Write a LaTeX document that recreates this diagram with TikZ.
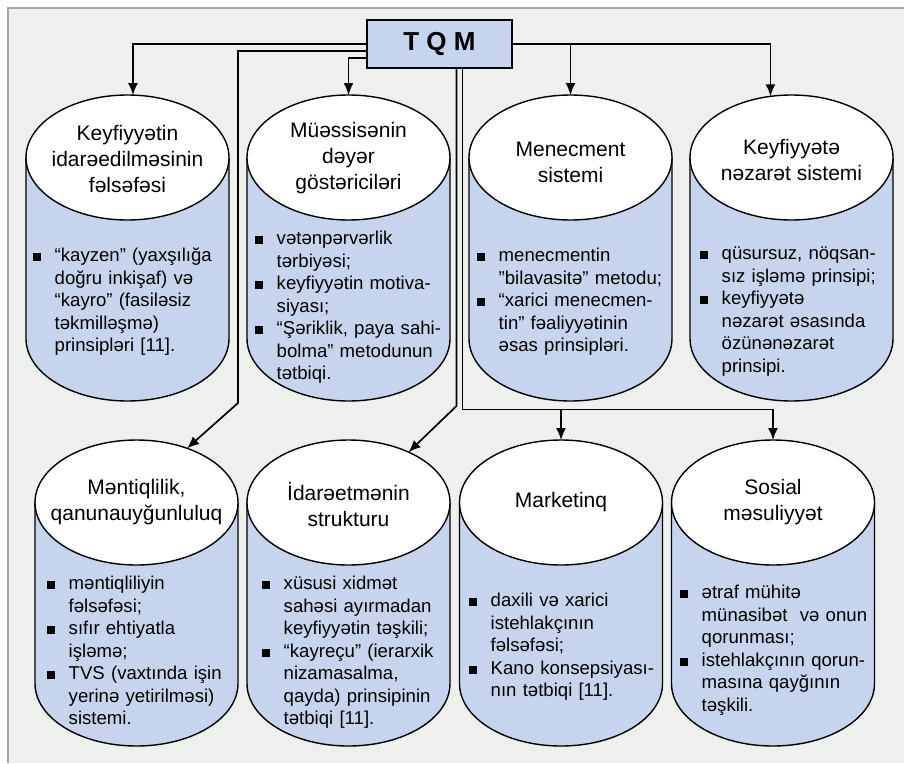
\documentclass[tikz,border=0pt]{standalone}
\usepackage{fontspec}
\setmainfont{Liberation Sans}
\usetikzlibrary{arrows.meta}
\usetikzlibrary{shapes.geometric}
\usetikzlibrary{backgrounds}
\tikzset{>={Latex[width=10pt,length=12pt]}}

\definecolor{boxblue}{RGB}{198,213,237}
\definecolor{pagegray}{RGB}{238,240,238}
\definecolor{framegray}{RGB}{165,165,165}

% one bullet item, lines broken by hand
\newcommand\bul[1]{\par\noindent\makebox[21.5pt][l]{\rule{0pt}{15pt}\raisebox{0.5pt}{\rule{8pt}{8pt}}}%
  \parbox[t]{180pt}{#1\rule[-6.5pt]{0pt}{6.5pt}}\par}

\tikzset{
  cylhead/.style={ellipse, draw, fill=white, line width=1.4pt,
    minimum width=203pt, minimum height=125pt, inner sep=0pt, outer sep=0pt},
  cylbody/.style={draw, fill=boxblue, line width=1.4pt},
  heading/.style={align=center, font=\fontsize{21}{26}\selectfont},
  bodytext/.style={anchor=north west, inner sep=0pt, text width=205pt,
    font=\fontsize{18.6}{22.5}\selectfont},
  link/.style={->, line width=1.7pt},
}

\begin{document}
\begin{tikzpicture}[x=1pt,y=-1pt]

  \useasboundingbox (0,0) rectangle (904,763);
  \begin{scope}[on background layer]
    \fill[pagegray] (8,8) rectangle (904,763);
    \draw[framegray, line width=1.6pt] (8,763) -- (8,8) -- (904,8);
  \end{scope}

  \node[draw, fill=boxblue, line width=1.4pt, minimum width=145pt, minimum height=48pt,
    inner sep=0pt, font=\bfseries\fontsize{26}{30}\selectfont] (tqm) at (439.5,44) {T Q M};

  % upper row
  \node[cylhead] (cyl1) at (127.5,157.5) {};
  \node[cylhead] (cyl2) at (348.5,157.5) {};
  \node[cylhead] (cyl3) at (570.5,157.5) {};
  \node[cylhead] (cyl4) at (791.5,157.5) {};
  % lower row
  \node[cylhead] (cyl5) at (136.5,502.5) {};
  \node[cylhead] (cyl6) at (348.5,502.5) {};
  \node[cylhead] (cyl7) at (561,502.5) {};
  \node[cylhead] (cyl8) at (773,502.5) {};

  \begin{scope}[on background layer]
    \foreach \i in {1,...,8}
      \draw[cylbody] (cyl\i.west) -- ++(0,181)
        arc[start angle=180, end angle=0, x radius=101.5, y radius=62.5] -- (cyl\i.east) -- cycle;
  \end{scope}

  \node[heading] (head1) at ([yshift=-1pt]cyl1.center) {Keyfiyyətin\\idarəedilməsinin\\fəlsəfəsi};
  \node[heading] (head2) at ([yshift=-1pt]cyl2.center) {Müəssisənin\\dəyər\\göstəriciləri};
  \node[heading] (head3) at ([yshift=-5pt]cyl3.center) {Menecment\\sistemi};
  \node[heading] (head4) at ([yshift=-2pt]cyl4.center) {Keyfiyyətə\\nəzarət sistemi};
  \node[heading] (head5) at (cyl5.center) {Məntiqlilik,\\qanunauyğunluluq};
  \node[heading] (head6) at ([yshift=-2pt]cyl6.center) {İdarəetmənin\\strukturu};
  \node[heading] (head7) at (cyl7.center) {Marketinq};
  \node[heading] (head8) at (cyl8.center) {Sosial\\məsuliyyət};

  \node[bodytext] (txt1) at (33,239) {\bul{“kayzen” (yaxşılığa\\doğru inkişaf) və\\
    “kayro” (fasiləsiz\\təkmilləşmə)\\prinsipləri [11].}};
  \node[bodytext] (txt2) at (255,222) {\bul{vətənpərvərlik\\tərbiyəsi;}
    \bul{keyfiyyətin motiva-\\siyası;}
    \bul{“Şəriklik, paya sahi-\\bolma” metodunun\\tətbiqi.}};
  \node[bodytext] (txt3) at (477,239) {\bul{menecmentin\\”bilavasitə” metodu;}
    \bul{“xarici menecmen-\\tin” fəaliyyətinin\\əsas prinsipləri.}};
  \node[bodytext] (txt4) at (700,237) {\bul{qüsursuz, nöqsan-\\sız işləmə prinsipi;}
    \bul{keyfiyyətə\\nəzarət əsasında\\özünənəzarət\\prinsipi.}};
  \node[bodytext] (txt5) at (47,567) {\bul{məntiqliliyin\\fəlsəfəsi;}
    \bul{sıfır ehtiyatla\\işləmə;}
    \bul{TVS (vaxtında işin\\yerinə yetirilməsi)\\sistemi.}};
  \node[bodytext] (txt6) at (262,567) {\bul{xüsusi xidmət\\sahəsi ayırmadan\\keyfiyyətin təşkili;}
    \bul{“kayreçu” (ierarxik\\nizamasalma,\\qayda) prinsipinin\\tətbiqi [11].}};
  \node[bodytext] (txt7) at (469,584) {\bul{daxili və xarici\\istehlakçının\\fəlsəfəsi;}
    \bul{Kano konsepsiyası-\\nın tətbiqi [11].}};
  \node[bodytext] (txt8) at (680,576) {\bul{ətraf mühitə\\münasibət~ və onun\\qorunması;}
    \bul{istehlakçının qorun-\\masına qayğının\\təşkili.}};

  % connectors from TQM
  \draw[link] (tqm.west) -| (cyl1.85);
  \draw[link] ([yshift=-14pt]tqm.west) -| (cyl2.north);
  \draw[link] (tqm.east) -| (cyl4.109);
  \draw[link] (tqm.east -| cyl3.north) -- (cyl3.north);

  \coordinate (bendA) at (238,403);
  \coordinate (bendB) at (456.5,406);
  \coordinate (bendC) at (462.5,409.5);
  \draw[link] ([yshift=-7pt]tqm.west) -| (bendA) -- (cyl5.47);
  \draw[link] (tqm.south -| bendB) -- (bendB) -- (cyl6.40);
  \draw[link] (tqm.south -| bendC) -- (bendC) -| (cyl8.north);
  \draw[link] (bendC -| cyl7.north) -- (cyl7.north);

\end{tikzpicture}
\end{document}
